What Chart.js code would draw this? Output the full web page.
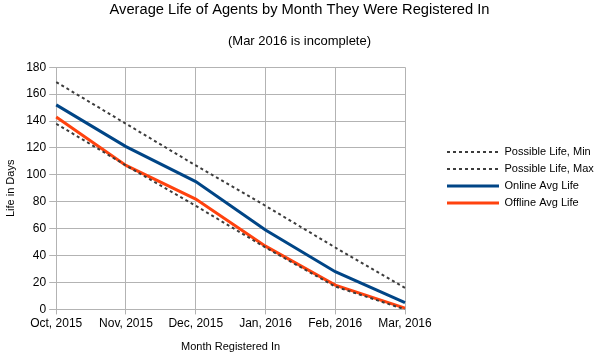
<!DOCTYPE html>
<html>
<head>
<meta charset="utf-8">
<script src="https://cdn.jsdelivr.net/npm/chart.js@4.4.0/dist/chart.umd.min.js"></script>
<style>
  html, body { margin: 0; padding: 0; background: #fff; }
  #wrap { width: 599px; height: 354px; }
</style>
</head>
<body>
<div id="wrap"><canvas id="lifeChart"></canvas></div>
<script>
var months = ['Oct, 2015', 'Nov, 2015', 'Dec, 2015', 'Jan, 2016', 'Feb, 2016', 'Mar, 2016'];
var possibleMin = [138, 107, 77, 46, 17, 0];
var possibleMax = [169, 138, 107, 77, 46, 16];
var onlineAvg = [152, 121, 95, 59, 28, 5];
var offlineAvg = [143, 107, 82, 47, 18, 1];

Chart.defaults.font.family = '"Liberation Sans", Arial, sans-serif';
Chart.defaults.color = '#000';

var ctx = document.getElementById('lifeChart').getContext('2d');
var lifeChart = new Chart(ctx, {
	type: 'line',
	data: {
		labels: months,
		datasets: [
			{
				label: 'Possible Life, Min',
				data: possibleMin,
				borderColor: '#3c3c3c',
				backgroundColor: '#3c3c3c',
				borderWidth: 2,
				borderDash: [3, 3],
				pointRadius: 0,
				fill: false
			},
			{
				label: 'Possible Life, Max',
				data: possibleMax,
				borderColor: '#3c3c3c',
				backgroundColor: '#3c3c3c',
				borderWidth: 2,
				borderDash: [3, 3],
				pointRadius: 0,
				fill: false
			},
			{
				label: 'Online Avg Life',
				data: onlineAvg,
				borderColor: '#004586',
				backgroundColor: '#004586',
				borderWidth: 3,
				pointRadius: 0,
				fill: false
			},
			{
				label: 'Offline Avg Life',
				data: offlineAvg,
				borderColor: '#ff420e',
				backgroundColor: '#ff420e',
				borderWidth: 3,
				pointRadius: 0,
				fill: false
			}
		]
	},
	options: {
		responsive: true,
		maintainAspectRatio: false,
		animation: false,
		layout: { padding: { top: 1, left: 0, right: 0, bottom: 0 } },
		scales: {
			x: {
				offset: false,
				grid: { color: '#b3b3b3', tickLength: 5 },
				border: { color: '#b3b3b3' },
				ticks: { font: { size: 12 }, maxRotation: 0, padding: 2 },
				title: { display: true, text: 'Month Registered In', font: { size: 11 }, padding: { top: 8, bottom: 0 } }
			},
			y: {
				min: 0,
				max: 180,
				grid: { color: '#b3b3b3', tickLength: 7 },
				border: { color: '#b3b3b3' },
				ticks: { stepSize: 20, font: { size: 12 }, padding: 3 },
				title: { display: true, text: 'Life in Days', font: { size: 11 }, padding: { bottom: 6 } }
			},
			// empty spacer between the plot and the legend
			gap: {
				type: 'linear',
				position: 'right',
				grid: { display: false },
				border: { display: false },
				ticks: { display: false },
				afterFit: function (scale) {
					scale.width = 36;
				}
			}
		},
		plugins: {
			title: {
				display: true,
				text: 'Average Life of Agents by Month They Were Registered In',
				font: { size: 14.7, weight: 'normal' },
				padding: { top: 0, bottom: 15 }
			},
			subtitle: {
				display: true,
				text: '(Mar 2016 is incomplete)',
				font: { size: 13 },
				padding: { bottom: 18 }
			},
			legend: {
				position: 'right',
				maxWidth: 158,
				labels: {
					usePointStyle: true,
					pointStyle: 'line',
					pointStyleWidth: 52,
					boxHeight: 8,
					font: { size: 11 },
					padding: 6,
					generateLabels: function (chart) {
						var items = Chart.defaults.plugins.legend.labels.generateLabels(chart);
						items.forEach(function (item) {
							var ds = chart.data.datasets[item.datasetIndex];
							item.lineDash = ds.borderDash || [];
							item.lineWidth = ds.borderWidth;
							item.strokeStyle = ds.borderColor;
						});
						return items;
					}
				}
			},
			tooltip: { enabled: false }
		}
	}
});
</script>
</body>
</html>
